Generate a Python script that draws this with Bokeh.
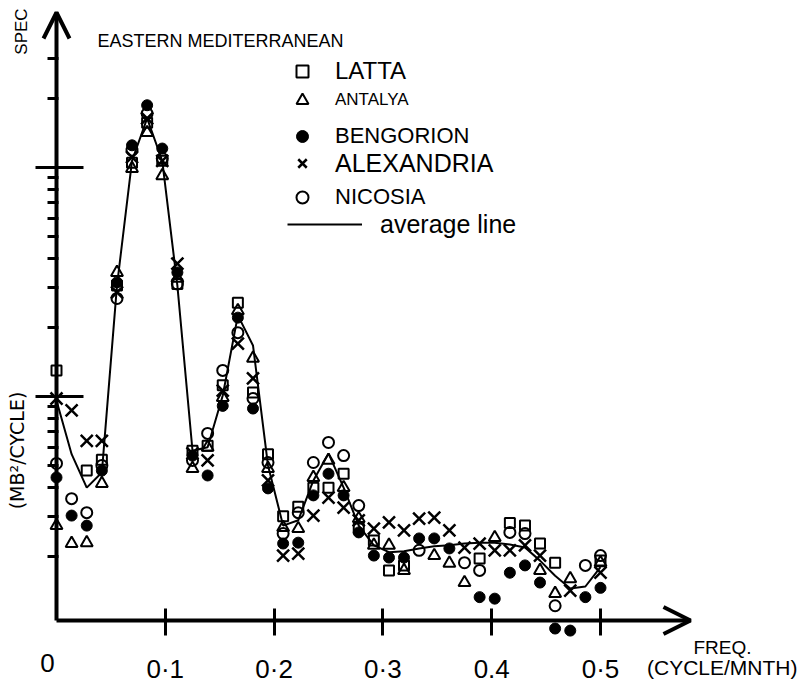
import math
from bokeh.plotting import figure
from bokeh.models import (ColumnDataSource, LinearAxis, LogAxis, FixedTicker, Range1d,
                          Label, Arrow, OpenHead, Legend)
from bokeh.embed import file_html
from bokeh.resources import INLINE

nan = float("nan")

# ---------------- data ----------------
freq = [0.0000, 0.0139, 0.0278, 0.0417, 0.0556, 0.0694, 0.0833, 0.0972, 0.1111,
        0.1250, 0.1389, 0.1528, 0.1667, 0.1806, 0.1944, 0.2083, 0.2222, 0.2361,
        0.2500, 0.2639, 0.2778, 0.2917, 0.3056, 0.3194, 0.3333, 0.3472, 0.3611,
        0.3750, 0.3889, 0.4028, 0.4167, 0.4306, 0.4444, 0.4583, 0.4722, 0.4861,
        0.5000]

latta = [1.30, nan, 0.475, 0.53, 3.05, 10.5, 15.7, 10.7, 3.1,
         0.58, 0.61, 1.12, 2.57, 1.04, 0.56, 0.30, 0.33, 0.40,
         0.40, 0.46, 0.265, 0.235, 0.174, 0.183, nan, nan, nan,
         nan, 0.196, nan, 0.28, 0.273, 0.228, 0.188, nan, nan,
         0.192]

antalya = [0.273, 0.228, 0.23, 0.417, 3.48, 9.9, 14.2, 9.2, 3.28,
           0.485, 0.60, 0.99, 2.37, 1.47, 0.485, 0.268, 0.265, 0.443,
           0.526, 0.40, 0.293, 0.224, 0.224, 0.174, nan, 0.202, 0.187,
           0.154, nan, 0.242, nan, nan, 0.174, 0.138, 0.160, nan,
           0.188]

bengorion = [0.443, 0.302, 0.273, 0.475, 3.15, 12.5, 18.7, 12.1, 3.48,
             0.552, 0.452, 0.91, 2.21, 0.886, 0.397, 0.228, 0.23, 0.37,
             0.46, 0.37, 0.255, 0.202, 0.198, 0.198, 0.24, 0.24, 0.217,
             nan, 0.133, 0.131, 0.170, 0.183, 0.154, 0.097, 0.095, 0.133,
             0.146]

alexandria = [0.98, 0.87, 0.64, 0.64, 2.85, 11.1, 16.4, 10.7, 3.8,
              0.564, 0.526, 1.06, 1.70, 1.20, 0.43, 0.202, 0.206, 0.302,
              0.362, 0.327, 0.288, 0.265, 0.282, 0.26, 0.293, 0.296, 0.26,
              0.219, 0.228, 0.213, 0.213, 0.224, 0.202, nan, 0.142, nan,
              0.170]

nicosia = [0.51, 0.358, 0.311, 0.50, 2.68, 11.9, 17.2, 10.95, 3.1,
           0.526, 0.69, 1.30, 1.90, 0.98, 0.515, 0.252, 0.311, 0.515,
           0.63, 0.552, 0.334, nan, nan, nan, 0.213, nan, nan,
           0.188, 0.174, nan, 0.255, 0.252, nan, 0.122, nan, 0.183,
           0.202]

average = [0.96, 0.56, 0.40, 0.466, 3.05, 10.7, 16.4, 10.7, 3.05,
           0.58, 0.60, 1.01, 2.26, 1.67, 0.50, 0.273, 0.288, 0.43,
           0.564, 0.40, 0.273, 0.224, 0.209, 0.211, 0.217, 0.222, 0.224,
           0.228, 0.230, 0.230, 0.226, 0.219, 0.192, 0.165, 0.145, 0.148,
           0.18]

x_ticks = [0.1, 0.2, 0.3, 0.4, 0.5]
x_tick_labels = ["0\u00b71", "0\u00b72", "0\u00b73", "0.4", "0\u00b75"]
y_major = [1, 10]
y_minor = [0.2, 0.3, 0.4, 0.5, 0.6, 0.7, 0.8, 0.9, 2, 3, 4, 5, 6, 7, 8, 9, 20, 30]

# ---------------- layout helpers (page pixel anchors) ----------------
W, H = 800, 682
X0, XS = 56.0, 1088.0     # page x of freq 0, pixels per unit of freq
Y1, YD = 396.0, 229.0     # page y of value 1, pixels per decade


def fx(px):
    return (px - X0) / XS


def fy(py):
    return 10 ** ((Y1 - py) / YD)


p = figure(width=W, height=H, output_backend="svg", toolbar_location=None,
           x_range=Range1d(fx(0), fx(W)), y_range=Range1d(fy(H), fy(0)),
           y_axis_type="log", x_axis_location=None, y_axis_location=None,
           min_border=0, tools="", title=None)
p.grid.visible = False
p.outline_line_color = None
p.background_fill_color = "white"
p.border_fill_color = "white"

src = ColumnDataSource(dict(freq=freq, latta=latta, antalya=antalya, bengorion=bengorion,
                            alexandria=alexandria, nicosia=nicosia, average=average))

# axes
x_base = fy(620)
xa = LinearAxis(fixed_location=x_base, bounds=(0, fx(690)),
                ticker=FixedTicker(ticks=x_ticks, minor_ticks=[]),
                major_label_overrides={t: l for t, l in zip(x_ticks, x_tick_labels)},
                axis_line_width=4, axis_line_color="black",
                major_tick_line_width=3, major_tick_line_color="black",
                major_tick_in=12, major_tick_out=15,
                minor_tick_line_alpha=0,
                major_label_standoff=18,
                major_label_text_font="Liberation Sans",
                major_label_text_font_size="26px",
                major_label_text_color="black")
p.add_layout(xa, "below")

ya = LogAxis(fixed_location=0, bounds=(x_base, fy(12)),
             ticker=FixedTicker(ticks=y_major, minor_ticks=y_minor),
             major_label_overrides={1: "", 10: ""},
             major_label_text_alpha=0,
             axis_line_width=4, axis_line_color="black",
             major_tick_line_width=3, major_tick_line_color="black",
             major_tick_in=27, major_tick_out=21,
             minor_tick_line_width=3, minor_tick_line_color="black",
             minor_tick_in=2, minor_tick_out=9)
p.add_layout(ya, "left")

p.add_layout(Arrow(end=OpenHead(size=27, line_width=4, line_color="black"),
                   x_start=fx(640), y_start=x_base, x_end=fx(690), y_end=x_base,
                   line_alpha=0))
p.add_layout(Arrow(end=OpenHead(size=26, line_width=4, line_color="black"),
                   x_start=0, y_start=fy(60), x_end=0, y_end=fy(12),
                   line_alpha=0))

# data
r_avg = p.line("freq", "average", source=src, line_color="black", line_width=2)
r_lat = p.scatter("freq", "latta", source=src, marker="square", size=10,
                  line_color="black", line_width=2, fill_color=None)
r_ant = p.scatter("freq", "antalya", source=src, marker="triangle", size=12,
                  line_color="black", line_width=2, fill_color=None)
r_ben = p.scatter("freq", "bengorion", source=src, marker="circle", size=11,
                  line_color="black", line_width=1, fill_color="black")
r_alx = p.scatter("freq", "alexandria", source=src, marker="x", size=17,
                  line_color="black", line_width=2.5)
r_nic = p.scatter("freq", "nicosia", source=src, marker="circle", size=11,
                  line_color="black", line_width=2, fill_color=None)

# legends (one per row so each can carry its own lettering size)
GH = 30
rows = [("LATTA", r_lat, 71, "24px", 30),
        ("ANTALYA", r_ant, 100, "17px", 34),
        ("BENGORION", r_ben, 135.5, "22px", 32),
        ("ALEXANDRIA", r_alx, 163, "25px", 40),
        ("NICOSIA", r_nic, 197, "22px", 30)]
for text, rend, cy, fs, gw in rows:
    left = 302 - gw / 2
    leg = Legend(items=[(text, [rend])], location=(left, H - cy - GH / 2),
                 orientation="vertical", padding=0, margin=0, spacing=0,
                 border_line_color=None, background_fill_alpha=0,
                 glyph_width=gw, glyph_height=GH, label_height=GH,
                 label_standoff=int(335 - left - gw), label_text_font="Liberation Sans",
                 label_text_font_size=fs, label_text_color="black")
    p.add_layout(leg)
p.add_layout(Legend(items=[("average line", [r_avg])], location=(287, H - 224 - GH / 2),
                    orientation="vertical", padding=0, margin=0, spacing=0,
                    border_line_color=None, background_fill_alpha=0,
                    glyph_width=75, glyph_height=GH, label_height=GH,
                    label_standoff=18, label_text_font="Liberation Sans",
                    label_text_font_size="25px", label_text_color="black"))

# texts
p.add_layout(Label(x=fx(21), y=fy(31), text="SPEC", angle=math.pi / 2,
                   text_align="center", text_baseline="middle",
                   text_font="Liberation Sans", text_font_size="17px", text_color="black"))
p.add_layout(Label(x=fx(16), y=fy(450), text="(MB\u00b2/CYCLE)", angle=math.pi / 2,
                   text_align="center", text_baseline="middle",
                   text_font="DejaVu Sans", text_font_size="19px", text_color="black"))
p.add_layout(Label(x=fx(97), y=fy(40), text="EASTERN MEDITERRANEAN",
                   text_align="left", text_baseline="alphabetic",
                   text_font="Liberation Sans", text_font_size="18px", text_color="black"))
p.add_layout(Label(x=fx(47), y=fy(653), text="0",
                   text_align="center", text_baseline="top",
                   text_font="Liberation Sans", text_font_size="26px", text_color="black"))
p.add_layout(Label(x=fx(693), y=fy(647), text="FREQ.",
                   text_align="left", text_baseline="alphabetic",
                   text_font="Liberation Sans", text_font_size="19px", text_color="black"))
p.add_layout(Label(x=fx(797), y=fy(667), text="(CYCLE/MNTH)",
                   text_align="right", text_baseline="alphabetic",
                   text_font="Liberation Sans", text_font_size="21px", text_color="black"))

open("out.html", "w").write(file_html(p, INLINE))
